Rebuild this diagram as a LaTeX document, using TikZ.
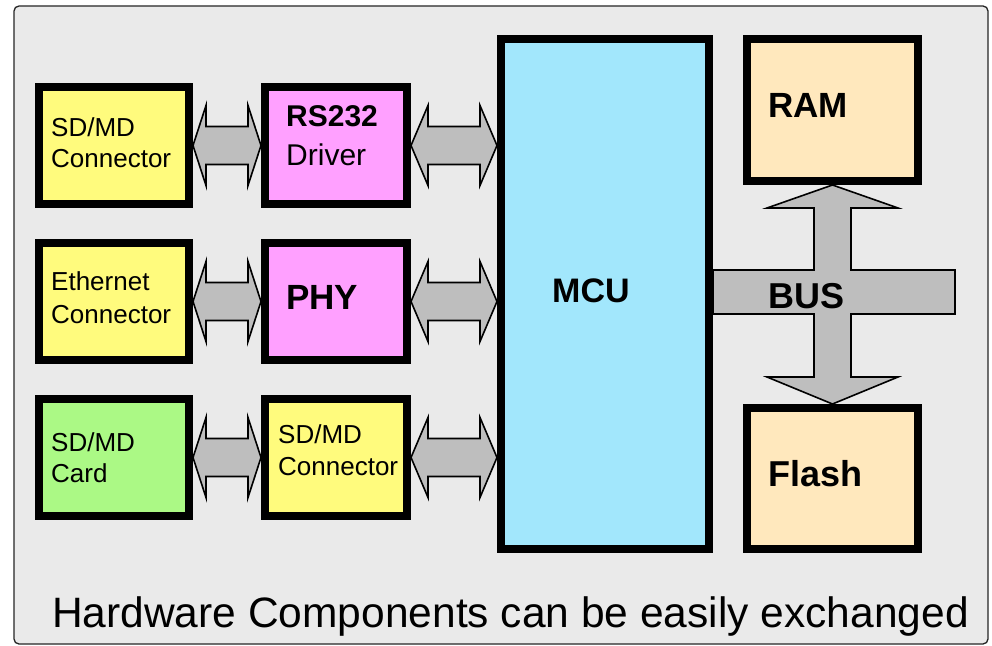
\documentclass[tikz,border=0pt]{standalone}
\usepackage{fontspec}
\setmainfont{Liberation Sans}
\usetikzlibrary{calc}
\definecolor{bgc}{HTML}{EAEAEA}
\definecolor{cyel}{HTML}{FFFB7D}
\definecolor{cpink}{HTML}{FFA0FF}
\definecolor{cgreen}{HTML}{ABF985}
\definecolor{cblue}{HTML}{A2E7FC}
\definecolor{cpeach}{HTML}{FFE8BD}
\definecolor{cgray}{HTML}{BEBEBE}
\newcommand\dblarr[3]{%
  \draw[arr] (#1) -- ($(#1)+(#3,-40)$) -- ($(#1)+(#3,-19)$) -- ($(#2)+(-#3,-19)$) -- ($(#2)+(-#3,-40)$) -- (#2)
    -- ($(#2)+(-#3,40)$) -- ($(#2)+(-#3,19)$) -- ($(#1)+(#3,19)$) -- ($(#1)+(#3,40)$) -- cycle;}
\begin{document}
\begin{tikzpicture}[x=1bp,y=-1bp,
  blk/.style={draw=black, line width=8bp, rectangle, inner sep=0pt, outer sep=4bp},
  small/.style={anchor=base west, inner sep=0pt, font=\fontsize{26bp}{31bp}\selectfont},
  mid/.style={anchor=base west, inner sep=0pt, font=\fontsize{30bp}{36bp}\selectfont},
  big/.style={anchor=base west, inner sep=0pt, font=\fontsize{35bp}{42bp}\selectfont\bfseries},
  arr/.style={fill=cgray, draw=black, line width=1.6bp, line join=miter},
  sidebox/.style={blk, minimum width=150bp, minimum height=117bp},
  midbox/.style={blk, minimum width=142bp, minimum height=117bp},
  membox/.style={blk, fill=cpeach, minimum width=171bp, minimum height=142bp}]
\useasboundingbox (0,0) rectangle (992,646);
\fill[white] (0,0) rectangle (992,646);
\draw[fill=bgc, draw=black!85, line width=1.3bp, rounded corners=5bp] (14,6) rectangle (988,644);
% boxes
\node[sidebox, fill=cyel] (sdc1) at (114,145.5) {};
\node[midbox, fill=cpink] (rs) at (336,145.5) {};
\node[sidebox, fill=cyel] (eth) at (114,301.5) {};
\node[midbox, fill=cpink] (phy) at (336,301.5) {};
\node[sidebox, fill=cgreen] (card) at (114,457.5) {};
\node[midbox, fill=cyel] (sdc2) at (336,457.5) {};
\node[blk, fill=cblue, minimum width=208bp, minimum height=510bp] (mcu) at (605,294) {};
\node[membox] (ram) at (832.5,110) {};
\node[membox, minimum height=141bp] (flash) at (832.5,478.5) {};
% labels
\node[small] (t1a) at (51,137) {SD/MD};
\node[small] (t1b) at (51,168) {Connector};
\node[mid, font=\fontsize{30bp}{36bp}\selectfont\bfseries] (t2a) at (286,127) {RS232};
\node[mid] (t2b) at (286,166) {Driver};
\node[small] (t3a) at (51,291) {Ethernet};
\node[small] (t3b) at (51,323) {Connector};
\node[big] (t4) at (286,309) {PHY};
\node[small] (t5a) at (51,451) {SD/MD};
\node[small] (t5b) at (51,482) {Card};
\node[small] (t6a) at (278,443) {SD/MD};
\node[small] (t6b) at (278,475) {Connector};
\node[big, font=\fontsize{34bp}{40bp}\selectfont\bfseries] (t7) at (552,302) {MCU};
\node[big] (t8) at (768,118) {RAM};
\node[big, font=\fontsize{36bp}{42bp}\selectfont\bfseries] (t9) at (768,486) {Flash};
% arrows
\coordinate (m1) at (rs.east -| mcu.west);
\coordinate (m2) at (phy.east -| mcu.west);
\coordinate (m3) at (sdc2.east -| mcu.west);
\dblarr{sdc1.east}{rs.west}{13}
\dblarr{eth.east}{phy.west}{13}
\dblarr{card.east}{sdc2.west}{13}
\dblarr{rs.east}{m1}{17}
\dblarr{phy.east}{m2}{17}
\dblarr{sdc2.east}{m3}{17}
% bus
\coordinate (busend) at (955,292);
\coordinate (busstart) at (mcu.east |- busend);
\draw[arr] ($(busstart)+(0,-22)$) -- ($(ram.south |- busstart)+(-18.5,-22)$) -- ($(ram.south)+(-18.5,23)$)
  -- ($(ram.south)+(-65.5,23)$) -- (ram.south) -- ($(ram.south)+(65.5,23)$) -- ($(ram.south)+(18.5,23)$)
  -- ($(ram.south |- busstart)+(18.5,-22)$) -- ($(busend)+(0,-22)$) -- ($(busend)+(0,22)$)
  -- ($(flash.north |- busend)+(18.5,22)$) -- ($(flash.north)+(18.5,-27)$) -- ($(flash.north)+(65.5,-27)$)
  -- (flash.north) -- ($(flash.north)+(-65.5,-27)$) -- ($(flash.north)+(-18.5,-27)$)
  -- ($(flash.north |- busend)+(-18.5,22)$) -- ($(busstart)+(0,22)$) -- cycle;
\node[big, font=\fontsize{36bp}{42bp}\selectfont\bfseries] (bus) at (768,308) {BUS};
% caption
\node[anchor=base west, inner sep=0pt, font=\fontsize{42.5bp}{50bp}\selectfont] (cap) at (52,627) {Hardware Components can be easily exchanged};
\end{tikzpicture}
\end{document}
